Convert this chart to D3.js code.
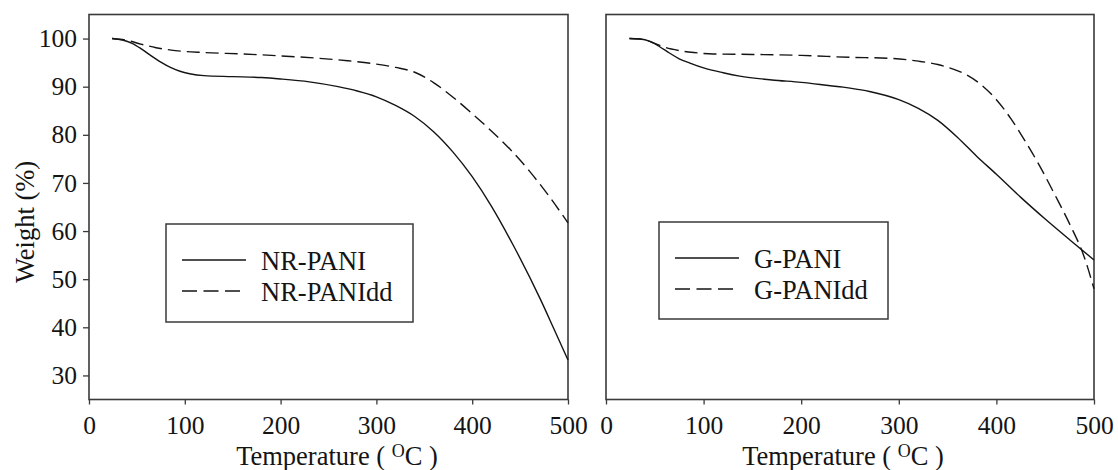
<!DOCTYPE html>
<html>
<head>
<meta charset="utf-8">
<script src="https://cdn.jsdelivr.net/npm/d3@7"></script>
<style>
  html, body { margin: 0; padding: 0; background: #fff; }
  svg { display: block; }
  svg text { font-family: "Liberation Serif", "Times New Roman", serif; }
</style>
</head>
<body>
<svg id="chart" width="1118" height="470"></svg>
<script>
// TGA curves: temperature (°C) vs. residual weight (%)
const nrPani = [
  [24,100],[35,99.7],[45,99],[55,97.8],[65,96.4],[75,95.1],[85,94],[95,93.2],[105,92.7],
  [120,92.3],[150,92.1],[180,91.9],[200,91.6],[230,91],[260,90],[280,89.1],[300,87.9],
  [320,86.1],[340,83.8],[360,80.6],[380,76.4],[400,71.3],[420,65.2],[443,57],[471,45.9],
  [485,39.8],[500,33.2]
];
const nrPaniDd = [
  [24,100],[40,99.6],[55,98.8],[70,98.1],[90,97.5],[120,97.1],[160,96.8],[200,96.4],
  [240,95.9],[270,95.4],[300,94.7],[320,94],[340,93],[360,90.8],[380,87.8],[400,84.4],
  [420,80.8],[440,76.9],[460,72.4],[480,67.3],[500,61.7]
];
const gPani = [
  [24,100],[35,99.9],[45,99.4],[55,98.3],[65,97],[75,95.8],[86,94.9],[100,93.9],[120,92.9],
  [137,92.2],[170,91.4],[200,90.9],[230,90.2],[243,89.9],[250,89.7],[270,89],[300,87.3],
  [320,85.5],[340,83],[360,79.5],[380,75.5],[400,71.8],[425,67],[450,62.5],[475,58.2],[500,54]
];
const gPaniDd = [
  [24,100],[38,99.8],[50,99],[60,98.2],[75,97.5],[90,97.1],[110,96.8],[150,96.7],[200,96.5],
  [250,96.1],[290,95.9],[320,95.3],[340,94.6],[355,93.7],[370,92.4],[385,90.3],[400,87.3],
  [415,83.3],[430,78.5],[445,73.3],[460,67.5],[475,61.5],[490,54.6],[500,48]
];

const xTicks = [0, 100, 200, 300, 400, 500];
const yTicks = [30, 40, 50, 60, 70, 80, 90, 100];
const xDomain = [0, 500];
const yDomain = [25, 105];

const panels = [
  { left: 89, right: 568, showY: true, title: 337,
    series: [{ name: "NR-PANI", data: nrPani, dash: null }, { name: "NR-PANIdd", data: nrPaniDd, dash: "13,6" }],
    legend: { x: 166, y: 224, w: 247, h: 98 } },
  { left: 606, right: 1094, showY: false, title: 843,
    series: [{ name: "G-PANI", data: gPani, dash: null }, { name: "G-PANIdd", data: gPaniDd, dash: "13,6" }],
    legend: { x: 659, y: 222, w: 229, h: 97 } }
];

const plotTop = 14.5, plotBottom = 399.5;
const svg = d3.select("#chart");
const frameColor = "#3a3a3a";
const ink = "#141414";
const tickFont = 25.5;
const legendFont = 26.5;
const titleFont = 26.5;

panels.forEach(p => {
  const x = d3.scaleLinear().domain(xDomain).range([p.left, p.right]);
  const y = d3.scaleLinear().domain(yDomain).range([plotBottom, plotTop]);
  const g = svg.append("g");

  // frame
  g.append("rect")
    .attr("x", p.left).attr("y", plotTop)
    .attr("width", p.right - p.left).attr("height", plotBottom - plotTop)
    .attr("fill", "none").attr("stroke", frameColor).attr("stroke-width", 1.6);

  // bottom axis
  const xa = g.append("g").attr("transform", `translate(0,${plotBottom})`)
    .call(d3.axisBottom(x).tickValues(xTicks).tickSize(5).tickPadding(11).tickSizeOuter(0));
  xa.attr("font-family", null).attr("font-size", null);
  xa.select(".domain").remove();
  xa.selectAll("line").attr("stroke", frameColor).attr("stroke-width", 1.3);
  xa.selectAll("text").attr("font-size", tickFont).attr("fill", ink);

  if (p.showY) {
    const ya = g.append("g").attr("transform", `translate(${p.left},0)`)
      .call(d3.axisLeft(y).tickValues(yTicks).tickSize(6).tickPadding(6).tickSizeOuter(0));
    ya.attr("font-family", null).attr("font-size", null);
    ya.select(".domain").remove();
    ya.selectAll("line").attr("stroke", frameColor).attr("stroke-width", 1.3);
    ya.selectAll("text").attr("font-size", tickFont).attr("fill", ink);
  }

  // curves
  const line = d3.line().x(d => x(d[0])).y(d => y(d[1])).curve(d3.curveMonotoneX);
  p.series.forEach(s => {
    g.append("path").datum(s.data)
      .attr("d", line)
      .attr("fill", "none").attr("stroke", ink).attr("stroke-width", 1.4)
      .attr("stroke-dasharray", s.dash);
  });

  // legend
  const L = p.legend;
  const lg = g.append("g");
  lg.append("rect").attr("x", L.x).attr("y", L.y).attr("width", L.w).attr("height", L.h)
    .attr("fill", "#fff").attr("stroke", frameColor).attr("stroke-width", 1.5);
  p.series.forEach((s, i) => {
    const ly = L.y + 36 + i * 31;
    lg.append("line").attr("x1", L.x + 16).attr("x2", L.x + (s.dash ? 74 : 80))
      .attr("y1", ly).attr("y2", ly)
      .attr("stroke", ink).attr("stroke-width", 1.4)
      .attr("stroke-dasharray", s.dash ? "15,6.5" : null);
    lg.append("text").attr("x", L.x + 95).attr("y", ly + 10)
      .attr("font-size", legendFont).attr("fill", ink).text(s.name);
  });

  // x title
  const t = g.append("text").attr("x", p.title).attr("y", 465)
    .attr("text-anchor", "middle").attr("font-size", titleFont).attr("fill", ink);
  t.append("tspan").text("Temperature ( ");
  t.append("tspan").attr("font-size", 18).attr("dy", -8).text("O");
  t.append("tspan").attr("dy", 8).text("C )");
});

// y title
svg.append("text")
  .attr("transform", "translate(34,222) rotate(-90)")
  .attr("text-anchor", "middle").attr("font-size", titleFont).attr("fill", ink)
  .text("Weight (%)");
</script>
</body>
</html>
